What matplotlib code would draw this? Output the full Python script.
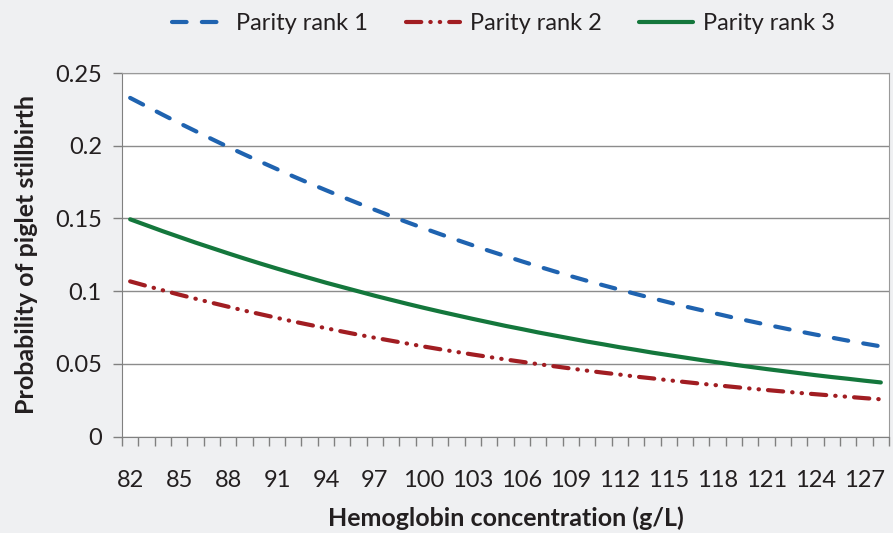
import matplotlib
matplotlib.use("Agg")
import matplotlib.pyplot as plt
import numpy as np

# Hemoglobin concentration (g/L), one point per integer
hb = list(range(82, 129))

# Probability of piglet stillbirth
parity1 = [0.2329, 0.2271, 0.2213, 0.2156, 0.2101, 0.2046, 0.1992, 0.1940, 0.1889, 0.1839,
           0.1789, 0.1741, 0.1694, 0.1648, 0.1603, 0.1559, 0.1515, 0.1473, 0.1432, 0.1392,
           0.1353, 0.1315, 0.1277, 0.1241, 0.1205, 0.1170, 0.1136, 0.1103, 0.1071, 0.1040,
           0.1010, 0.0980, 0.0951, 0.0923, 0.0895, 0.0869, 0.0843, 0.0817, 0.0793, 0.0769,
           0.0746, 0.0723, 0.0701, 0.0680, 0.0659, 0.0639, 0.0620]
parity2 = [0.1067, 0.1036, 0.1006, 0.0976, 0.0948, 0.0920, 0.0893, 0.0866, 0.0841, 0.0816,
           0.0791, 0.0768, 0.0745, 0.0722, 0.0700, 0.0679, 0.0659, 0.0639, 0.0619, 0.0600,
           0.0582, 0.0564, 0.0547, 0.0530, 0.0514, 0.0498, 0.0483, 0.0468, 0.0453, 0.0439,
           0.0426, 0.0412, 0.0400, 0.0387, 0.0375, 0.0363, 0.0352, 0.0341, 0.0330, 0.0320,
           0.0310, 0.0300, 0.0291, 0.0282, 0.0273, 0.0264, 0.0256]
parity3 = [0.1494, 0.1453, 0.1412, 0.1373, 0.1334, 0.1297, 0.1260, 0.1224, 0.1189, 0.1155,
           0.1122, 0.1090, 0.1058, 0.1028, 0.0998, 0.0968, 0.0940, 0.0912, 0.0885, 0.0859,
           0.0834, 0.0809, 0.0785, 0.0761, 0.0739, 0.0716, 0.0695, 0.0674, 0.0653, 0.0634,
           0.0614, 0.0596, 0.0577, 0.0560, 0.0543, 0.0526, 0.0510, 0.0494, 0.0479, 0.0464,
           0.0450, 0.0436, 0.0422, 0.0409, 0.0397, 0.0384, 0.0372]

labels = ["Parity rank 1", "Parity rank 2", "Parity rank 3"]
xticklabels = [str(v) for v in range(82, 128, 3)]

plt.rcParams['font.family'] = ['Lato', 'DejaVu Sans']
plt.rcParams['lines.scale_dashes'] = False

bg = '#eff0f2'
txt = '#231f20'
fig = plt.figure(figsize=(8.93, 5.33), dpi=100, facecolor=bg)
ax = fig.add_axes([0.1366, 0.181, 0.8589, 0.682])
ax.set_facecolor('white')

lw = 3.0
ax.plot(hb, parity1, color='#1f63b0', lw=lw, linestyle=(0, (10.5, 11)),
        dash_capstyle='round', label=labels[0])
ax.plot(hb, parity2, color='#a11d22', lw=lw, linestyle=(0, (11, 6.5, 0.3, 6.5, 0.3, 6.5)),
        dash_capstyle='round', label=labels[1])
ax.plot(hb, parity3, color='#14773c', lw=lw, solid_capstyle='round', label=labels[2])

ax.set_xlim(81.5, 128.5)
ax.set_ylim(0, 0.25)

# y axis
ax.set_yticks(np.arange(0, 0.2501, 0.05))
ax.set_yticklabels(['0', '0.05', '0.1', '0.15', '0.2', '0.25'])
ax.yaxis.set_tick_params(length=6.5, width=1, color='#808080', pad=8,
                         labelsize=17, labelcolor=txt)
ax.yaxis.grid(True, color='#8c8c8c', lw=1)

# x axis: category ticks between points, labels every third
ax.set_xticks(range(82, 128, 3))
ax.set_xticklabels(xticklabels)
ax.set_xticks(np.arange(81.5, 129, 1), minor=True)
ax.xaxis.set_tick_params(which='minor', length=6.5, width=1, color='#808080')
ax.xaxis.set_tick_params(which='major', length=0, pad=24, labelsize=17, labelcolor=txt)

for s in ['left', 'bottom']:
    ax.spines[s].set_color('#808080')
for s in ['top', 'right']:
    ax.spines[s].set_color('#9a9a9a')
ax.set_axisbelow(True)

ax.set_xlabel('Hemoglobin concentration (g/L)', fontsize=18, fontweight='bold',
              color=txt, labelpad=11)
ax.set_ylabel('Probability of piglet stillbirth', fontsize=18, fontweight='bold',
              color=txt, labelpad=12)

fig.legend(loc='center', bbox_to_anchor=(0.564, 0.955), ncol=3, frameon=False,
           fontsize=17, handlelength=2.3, handletextpad=0.4, columnspacing=1.6,
           labelcolor=txt)

fig.savefig('out.png', dpi=100, facecolor=bg)
